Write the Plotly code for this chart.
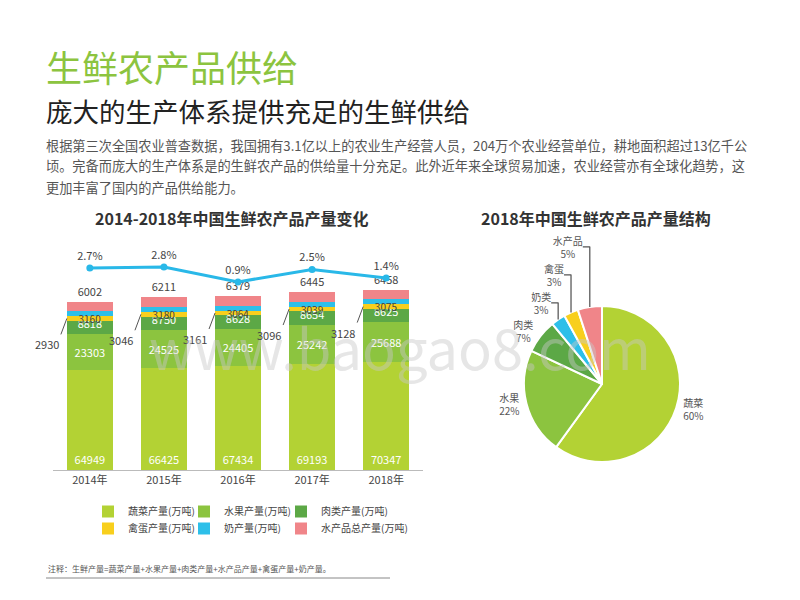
import plotly.graph_objects as go

years = ["2014年", "2015年", "2016年", "2017年", "2018年"]
veg = [64949, 66425, 67434, 69193, 70347]
fruit = [23303, 24525, 24405, 25242, 25688]
meat = [8818, 8750, 8628, 8654, 8625]
egg = [2930, 3046, 3161, 3096, 3128]
milk = [3160, 3180, 3064, 3039, 3075]
aqua = [6002, 6211, 6379, 6445, 6458]
growth = [2.7, 2.8, 0.9, 2.5, 1.4]

pie_labels = ["蔬菜", "水果", "肉类", "奶类", "禽蛋", "水产品"]
pie_values = [60, 22, 7, 3, 3, 5]

C_VEG, C_FRUIT, C_MEAT = "#b3d234", "#8cc43f", "#5ca846"
C_EGG, C_MILK, C_AQUA = "#f8cf1d", "#2dbfe9", "#f08589"
FONT = "Noto Sans CJK SC"

fig = go.Figure()
series = [
    ("蔬菜产量(万吨)", veg, C_VEG, "white", "inside", "start", 11),
    ("水果产量(万吨)", fruit, C_FRUIT, "white", "inside", "middle", 11),
    ("肉类产量(万吨)", meat, C_MEAT, "white", "inside", "start", 11),
    ("禽蛋产量(万吨)", egg, C_EGG, "#444", "none", "middle", 11),
    ("奶产量(万吨)", milk, C_MILK, "#444", "inside", "end", 10),
    ("水产品总产量(万吨)", aqua, C_AQUA, "#444", "outside", "middle", 11),
]
leg_pos = [(88, 497), (184, 497), (281, 497), (88, 514), (184, 514), (281, 514)]
legends = {}
for k, ((name, vals, col, tc, tpos, anchor, fs), (lx, ly)) in enumerate(zip(series, leg_pos)):
    lname = "legend" if k == 0 else f"legend{k + 1}"
    legends[lname] = dict(x=lx / 800, y=1 - ly / 600, yanchor="top", xanchor="left",
                          font=dict(size=10, color="#444"), itemwidth=30,
                          bgcolor="rgba(0,0,0,0)")
    fig.add_trace(go.Bar(
        x=years, y=vals, name=name, marker_color=col, width=0.62,
        text=None if tpos == "none" else [str(v) for v in vals],
        textposition=tpos, insidetextanchor=anchor, constraintext="none",
        textfont=dict(color=tc, size=fs, family=FONT), legend=lname,
        marker_line_width=0, cliponaxis=False, textangle=0,
    ))

fig.add_trace(go.Scatter(
    x=years, y=growth, yaxis="y2", mode="lines+markers+text",
    text=[f"{g}%" for g in growth], textposition="top center",
    textfont=dict(size=11, color="#444", family=FONT),
    line=dict(color="#29b8e8", width=3), marker=dict(size=7, color="#29b8e8"),
    showlegend=False,
))

for i, (v, m, f, e) in enumerate(zip(veg, fruit, meat, egg)):
    ymid = v + f + m + e / 2
    fig.add_annotation(x=i - 0.31, y=ymid, xref="x", yref="y", text=str(e),
                       showarrow=True, arrowhead=0, arrowwidth=1, arrowcolor="#555",
                       ax=-6, ay=16, xanchor="right", yanchor="top",
                       font=dict(size=11, color="#444", family=FONT))

fig.add_trace(go.Pie(
    labels=pie_labels, values=pie_values, sort=False, direction="clockwise", rotation=0,
    marker=dict(colors=[C_VEG, C_FRUIT, C_MEAT, C_MILK, C_EGG, C_AQUA],
                line=dict(color="white", width=2)),
    texttemplate="%{label}<br>%{value}%",
    textposition="outside", textfont=dict(size=10, color="#555", family=FONT),
    domain=dict(x=[0.655, 0.85], y=[0.23, 0.49]), showlegend=False,
))

fig.update_layout(
    width=800, height=600, margin=dict(l=0, r=0, t=0, b=0, autoexpand=False),
    paper_bgcolor="white", plot_bgcolor="white", barmode="stack",
    font=dict(family=FONT, color="#444"),
    xaxis=dict(domain=[0.066, 0.529], anchor="y", range=[-0.5, 4.5], showgrid=False,
               showline=True, linecolor="#bbb", ticks="", tickfont=dict(size=11, color="#444")),
    yaxis=dict(domain=[0.2167, 0.5833], anchor="x", range=[0, 143000], visible=False,
               automargin=False),
    yaxis2=dict(overlaying="y", anchor="x", side="right", range=[-23.3, 5.0],
                visible=False, automargin=False),
    showlegend=True,
    **legends,
)

def txt(x, y, t, size, color, xa="left"):
    fig.add_annotation(x=x / 800, y=1 - y / 600, xref="paper", yref="paper", text=t,
                       showarrow=False, xanchor=xa, yanchor="middle",
                       font=dict(size=size, color=color, family=FONT), align="left")

txt(44, 66, "生鲜农产品供给", 36, "#8cc43f")
txt(44, 110, "庞大的生产体系提供充足的生鲜供给", 26.5, "#222")
txt(44, 145, "根据第三次全国农业普查数据，我国拥有3.1亿以上的农业生产经营人员，204万个农业经营单位，耕地面积超过13亿千公", 13.2, "#555")
txt(44, 166, "顷。完备而庞大的生产体系是的生鲜农产品的供给量十分充足。此外近年来全球贸易加速，农业经营亦有全球化趋势，这", 13.2, "#555")
txt(44, 187, "更加丰富了国内的产品供给能力。", 13.2, "#555")
txt(232, 218, "<b>2014-2018年中国生鲜农产品产量变化</b>", 16, "#333", xa="center")
txt(596, 218, "<b>2018年中国生鲜农产品产量结构</b>", 16, "#333", xa="center")
txt(46, 568, "注释：生鲜产量=蔬菜产量+水果产量+肉类产量+水产品产量+禽蛋产量+奶产量。", 8, "#555")
fig.add_shape(type="line", xref="paper", yref="paper", x0=46 / 800, x1=390 / 800,
              y0=1 - 578 / 600, y1=1 - 578 / 600, line=dict(color="#888", width=1))
txt(400, 345, "www.baogao8.com", 56, "rgba(200,200,200,0.45)", xa="center")

fig.write_html("out.html", config={"displayModeBar": False},
               post_script="document.body.style.margin='0';")
